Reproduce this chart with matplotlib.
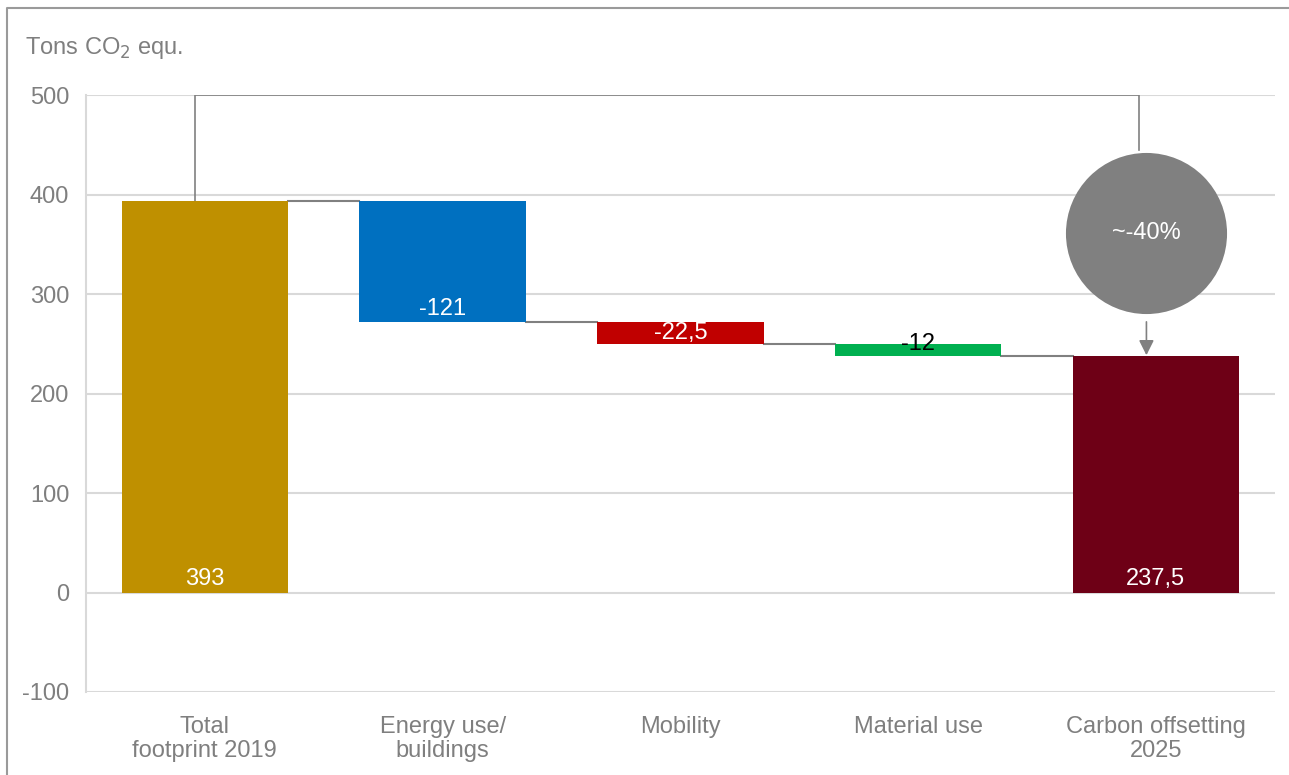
import matplotlib.pyplot as plt
from matplotlib.lines import Line2D

plt.rcParams['font.family'] = ['Liberation Sans', 'DejaVu Sans']
plt.rcParams['axes.unicode_minus'] = False

# Datos del gráfico de cascada
categorias = ['Total\nfootprint 2019', 'Energy use/\nbuildings', 'Mobility',
              'Material use', 'Carbon offsetting\n2025']
total_2019 = 393
reducciones = [-121, -22.5, -12]
total_2025 = 237.5
etiquetas = ['393', '-121', '-22,5', '-12', '237,5']
colores = ['#BF9000', '#0070C0', '#C00000', '#00B050', '#6E0016']
texto_reduccion = '~-40%'

gris = '#808080'
gris_texto = '#7F7F7F'
fs = 17

# Calcular bases y alturas de cada barra
bases = [0]
alturas = [total_2019]
nivel = total_2019
for r in reducciones:
    bases.append(nivel + r)
    alturas.append(-r)
    nivel += r
bases.append(0)
alturas.append(total_2025)

fig = plt.figure(figsize=(12.89, 7.75), dpi=100)
ax = fig.add_axes([0.0667, 0.1071, 0.9223, 0.7703])

x = list(range(len(categorias)))
ancho = 0.7
ax.bar(x, alturas, bottom=bases, width=ancho, color=colores, zorder=3)

# Líneas de conexión entre barras
niveles = [total_2019]
for r in reducciones:
    niveles.append(niveles[-1] + r)
for i, nv in enumerate(niveles):
    ax.plot([i + ancho / 2, i + 1 - ancho / 2], [nv, nv], color=gris, lw=1.5, zorder=2)

# Etiquetas de valores
ax.text(0, 3, etiquetas[0], ha='center', va='bottom', color='white', fontsize=fs, zorder=4)
ax.text(1, bases[1] + 2, etiquetas[1], ha='center', va='bottom', color='white', fontsize=fs, zorder=4)
ax.text(2, bases[2] + alturas[2] / 2, etiquetas[2], ha='center', va='center', color='white', fontsize=fs, zorder=4)
ax.text(3, bases[3] + alturas[3] / 2 + 6, etiquetas[3], ha='center', va='center', color='black', fontsize=fs, zorder=4)
ax.text(4, 3, etiquetas[4], ha='center', va='bottom', color='white', fontsize=fs, zorder=4)

# Corchete y círculo de reducción
xc = 3.96
ax.plot([-0.04, -0.04, 3.93, 3.93], [total_2019, 500, 500, 445], color=gris, lw=1.2, zorder=2)
ax.plot([xc], [361], 'o', markersize=116, color=gris, markeredgewidth=0, zorder=5)
ax.text(xc, 361, texto_reduccion, ha='center', va='center', color='white', fontsize=fs, zorder=6)
ax.annotate('', xy=(xc, total_2025 + 1), xytext=(xc, 272),
            arrowprops=dict(arrowstyle='-|>,head_length=0.9,head_width=0.45',
                            color=gris, lw=1.2, shrinkA=0, shrinkB=0), zorder=6)

ax.set_xlim(-0.5, 4.5)
ax.set_ylim(-100, 500)
ax.set_yticks(range(-100, 501, 100))
ax.set_xticks(x)
ax.set_xticklabels(categorias, linespacing=1.15)
ax.tick_params(length=0, labelsize=fs, labelcolor=gris_texto)
ax.tick_params(axis='y', pad=12)
ax.tick_params(axis='x', pad=17)
ax.yaxis.grid(True, color='#D9D9D9', lw=1.5, zorder=0)
for lado in ['top', 'right', 'bottom']:
    ax.spines[lado].set_visible(False)
ax.spines['left'].set_color('#D9D9D9')
ax.spines['left'].set_linewidth(1.5)

fig.text(25 / 1289, 1 - 48 / 775, 'Tons CO$_2$ equ.', ha='left', va='center',
         color=gris_texto, fontsize=fs)

# Marco exterior
fig.add_artist(Line2D([7 / 1289, 7 / 1289, 1], [0, 1 - 8 / 775, 1 - 8 / 775],
                      color='#9A9A9A', lw=1.5))

fig.savefig('out.png', dpi=100)
